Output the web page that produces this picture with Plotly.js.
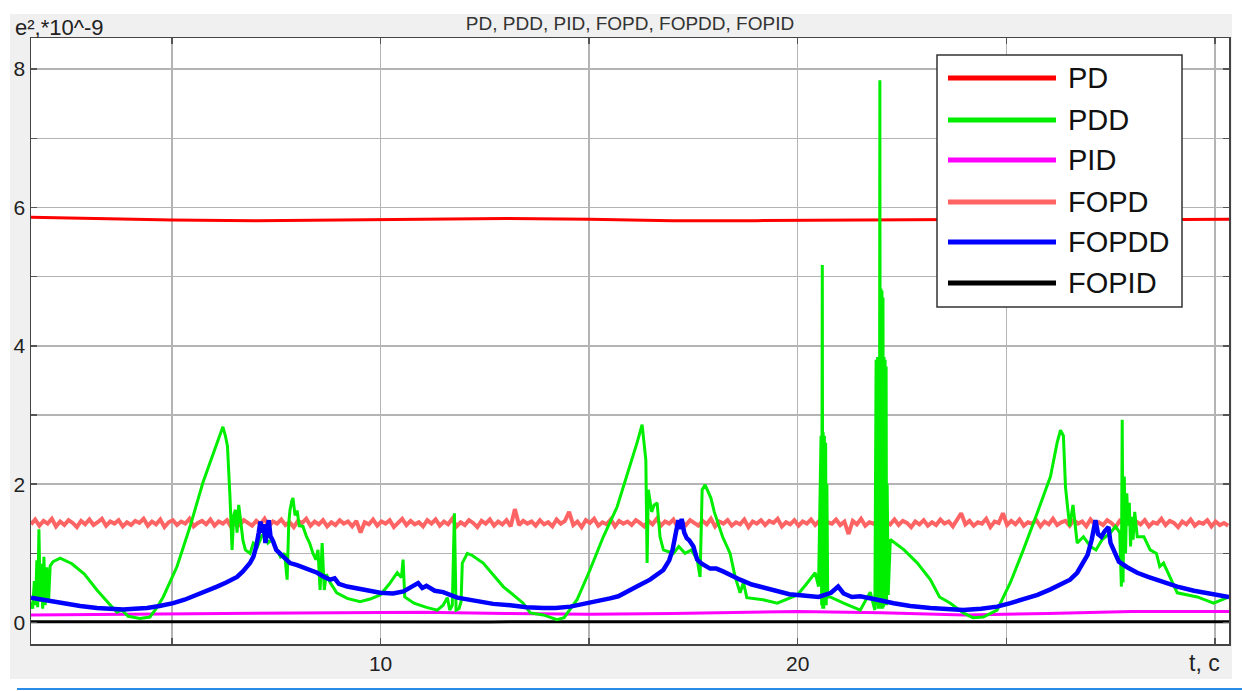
<!DOCTYPE html>
<html>
<head>
<meta charset="utf-8">
<script src="https://cdn.plot.ly/plotly-3.0.1.min.js"></script>
<style>
  html, body { margin: 0; padding: 0; background: #ffffff; }
  #panel { position: absolute; left: 10px; top: 14px; width: 1222px; height: 665px; background: #f0f0f0; }
  #rule { position: absolute; left: 17px; top: 688px; width: 1225px; height: 2px; background: #2a8be8; }
  #chart { position: absolute; left: 0; top: 0; width: 1242px; height: 691px; }
</style>
</head>
<body>
<div id="panel"></div>
<div id="rule"></div>
<div id="chart"></div>
<script>
// ---------------- data ----------------
const chartTitle = "PD, PDD, PID, FOPD, FOPDD, FOPID";
const yLabel = "e²,*10^-9";
const xLabel = "t, c";
const seriesNames = ["PD", "PDD", "PID", "FOPD", "FOPDD", "FOPID"];
const seriesColors = ["#ff0000", "#00ee00", "#ff00ff", "#ff6464", "#0000ff", "#000000"];

const xTickVals = [5, 10, 15, 20, 25, 30];
const xTickText = ["", "10", "", "20", "", ""];
const yTickVals = [0, 1, 2, 3, 4, 5, 6, 7, 8];
const yTickText = ["0", "", "2", "", "4", "", "6", "", "8"];

// PD (red)
const tPD = [1.62, 3, 5, 7, 9, 11, 13, 15, 17, 19, 21, 23, 25, 27, 29, 30.34];
const yPD = [5.86, 5.84, 5.82, 5.81, 5.82, 5.83, 5.84, 5.83, 5.81, 5.81, 5.82, 5.83, 5.83, 5.82, 5.82, 5.83];

// PDD (green)
const tPDD = [1.62,1.66,1.70,1.73,1.76,1.78,1.81,1.84,1.87,1.90,1.93,1.96,2.00,2.04,2.08,2.15,2.32,2.6,2.9,3.2,3.45,3.68,3.8,3.95,4.23,4.47,4.62,4.79,5.12,5.43,5.74,6.08,6.15,6.22,6.28,6.33,6.39,6.44,6.48,6.52,6.56,6.60,6.65,6.70,6.76,6.87,6.95,7.05,7.15,7.22,7.30,7.40,7.52,7.60,7.70,7.76,7.80,7.83,7.87,7.90,7.95,8.00,8.05,8.14,8.22,8.30,8.38,8.45,8.50,8.55,8.60,8.65,8.70,8.79,8.95,9.2,9.51,9.75,9.99,10.2,10.4,10.5,10.54,10.58,10.8,11.1,11.36,11.5,11.6,11.66,11.72,11.77,11.81,11.88,11.93,11.96,12.08,12.2,12.46,12.94,13.42,13.59,13.9,14.23,14.4,14.71,15.02,15.34,15.67,15.98,16.15,16.27,16.33,16.36,16.39,16.42,16.50,16.56,16.63,16.70,16.78,16.9,17.02,17.15,17.3,17.45,17.59,17.66,17.71,17.78,17.85,17.92,18.0,18.07,18.2,18.38,18.5,18.62,18.7,18.78,19.17,19.51,19.99,20.2,20.42,20.50,20.56,20.575,20.59,20.60,20.61,20.625,20.64,20.655,20.67,20.685,20.70,20.72,20.78,21.1,21.5,21.74,21.85,21.88,21.90,21.915,21.93,21.945,21.96,21.97,21.98,21.995,22.005,22.02,22.03,22.045,22.055,22.07,22.08,22.095,22.105,22.12,22.13,22.145,22.17,22.22,22.55,22.87,23.18,23.4,23.66,23.97,24.2,24.45,24.78,25.1,25.41,25.74,26.06,26.22,26.30,26.37,26.42,26.47,26.52,26.6,26.7,26.85,27.02,27.15,27.3,27.5,27.62,27.72,27.76,27.78,27.80,27.83,27.86,27.89,27.92,27.95,27.98,28.01,28.04,28.08,28.14,28.3,28.45,28.6,28.68,28.77,29.1,29.58,29.97,30.34];
const yPDD = [0.30,0.20,0.60,0.25,0.90,0.22,1.35,0.30,0.85,0.20,0.95,0.25,0.80,0.30,0.82,0.88,0.93,0.85,0.70,0.47,0.30,0.15,0.18,0.09,0.06,0.08,0.20,0.37,0.81,1.38,2.02,2.60,2.72,2.83,2.70,2.55,1.82,1.05,1.55,1.63,1.30,1.70,1.45,1.19,1.05,1.00,1.15,1.10,1.25,1.30,1.15,1.20,1.05,0.95,1.00,0.62,1.45,1.63,1.75,1.80,1.55,1.62,1.40,1.39,1.25,1.15,1.00,0.91,1.05,0.47,1.15,0.47,0.70,0.58,0.43,0.35,0.30,0.34,0.40,0.55,0.72,0.65,0.91,0.37,0.28,0.22,0.18,0.25,0.36,0.18,0.25,1.58,0.18,0.20,0.30,0.86,1.00,0.97,0.86,0.52,0.28,0.14,0.11,0.04,0.07,0.33,0.76,1.24,1.67,2.25,2.60,2.86,2.55,2.35,0.86,1.92,1.60,1.70,1.73,1.24,1.05,1.02,1.00,1.10,1.00,1.05,0.91,0.66,1.92,1.99,1.90,1.80,1.60,1.48,1.24,1.00,0.66,0.43,0.58,0.36,0.33,0.28,0.40,0.55,0.72,0.52,2.70,0.25,5.17,0.20,2.75,0.20,2.70,0.30,2.60,0.25,2.00,0.37,0.37,0.28,0.18,0.44,0.18,3.80,0.25,3.84,0.20,3.80,0.22,7.84,0.20,4.83,0.25,4.80,0.20,4.70,0.22,3.84,0.25,3.80,0.30,3.70,0.25,2.00,0.40,1.20,1.05,0.86,0.62,0.37,0.28,0.14,0.07,0.08,0.18,0.58,1.05,1.58,2.11,2.60,2.78,2.70,1.96,1.67,1.39,1.70,1.15,1.24,1.10,1.05,1.20,1.30,1.39,1.30,0.52,2.93,0.58,2.11,1.00,1.87,1.40,1.73,1.10,1.53,1.20,1.60,1.24,1.24,1.05,1.00,0.81,0.86,0.43,0.37,0.28,0.37,0.62];

// PID (magenta)
const tPID = [1.62, 4, 6, 8.8, 11, 13, 15, 17, 20, 22, 24, 26, 28, 30.34];
const yPID = [0.11, 0.12, 0.13, 0.15, 0.15, 0.13, 0.12, 0.13, 0.16, 0.14, 0.11, 0.13, 0.16, 0.16];

// FOPD (salmon) — sampled every 0.1 s starting at t = 1.62
const fopdStart = 1.62, fopdStep = 0.1;
const yFOPD = [
1.42,1.49,1.40,1.47,1.43,1.50,1.39,1.46,1.41,1.48,1.44,1.38,1.47,1.42,1.49,1.41,1.45,1.50,1.40,1.46,1.43,1.48,1.39,1.45,
1.41,1.47,1.44,1.50,1.40,1.46,1.42,1.49,1.38,1.45,1.48,1.41,1.46,1.43,1.50,1.39,1.44,1.47,1.42,1.49,1.40,1.46,1.43,1.48,
1.38,1.45,1.41,1.48,1.44,1.40,1.47,1.42,1.50,1.39,1.46,1.43,1.49,1.41,1.45,1.38,1.47,1.44,1.50,1.40,1.46,1.42,1.48,1.39,
1.45,1.41,1.48,1.43,1.46,1.39,1.47,1.30,1.45,1.42,1.49,1.40,1.46,1.43,1.48,1.38,1.44,1.50,1.41,1.47,1.42,1.45,1.39,1.48,
1.43,1.49,1.40,1.46,1.42,1.50,1.39,1.45,1.41,1.48,1.44,1.38,1.47,1.43,1.49,1.40,1.46,1.42,1.48,1.39,1.64,1.41,1.47,1.43,
1.46,1.40,1.48,1.42,1.45,1.39,1.49,1.43,1.47,1.60,1.41,1.46,1.38,1.48,1.44,1.50,1.40,1.45,1.42,1.49,1.39,1.47,1.43,1.46,
1.41,1.48,1.44,1.39,1.47,1.42,1.50,1.40,1.46,1.43,1.49,1.38,1.45,1.41,1.48,1.44,1.40,1.47,1.42,1.50,1.39,1.46,1.43,1.48,
1.40,1.45,1.42,1.49,1.38,1.46,1.43,1.48,1.41,1.47,1.44,1.50,1.39,1.45,1.42,1.48,1.40,1.46,1.43,1.49,1.41,1.47,1.38,1.45,
1.43,1.49,1.41,1.46,1.28,1.47,1.42,1.50,1.40,1.45,1.43,1.48,1.39,1.46,1.42,1.49,1.41,1.47,1.44,1.38,1.46,1.42,1.48,1.40,
1.45,1.41,1.49,1.43,1.46,1.39,1.48,1.58,1.42,1.47,1.40,1.45,1.43,1.50,1.38,1.46,1.44,1.58,1.41,1.47,1.42,1.49,1.40,1.45,
1.43,1.48,1.39,1.46,1.42,1.50,1.41,1.45,1.47,1.40,1.48,1.43,1.46,1.39,1.49,1.42,1.45,1.41,1.48,1.44,1.38,1.47,1.43,1.49,
1.40,1.46,1.42,1.48,1.39,1.45,1.43,1.50,1.41,1.47,1.44,1.38,1.46,1.42,1.49,1.40,1.45,1.43,1.48,1.39,1.46,1.41,1.44,1.40];

// FOPDD (blue)
const tFOPDD = [1.62,1.8,2.1,2.4,2.8,3.2,3.5,3.83,4.1,4.4,4.7,5.03,5.3,5.6,5.85,6.08,6.3,6.56,6.7,6.87,6.95,7.02,7.08,7.12,7.16,7.20,7.24,7.28,7.32,7.36,7.42,7.5,7.59,7.7,7.83,8.0,8.15,8.3,8.48,8.65,8.79,8.9,9.0,9.2,9.58,9.99,10.3,10.55,10.75,10.9,11.0,11.1,11.3,11.5,11.84,12.3,12.7,13.11,13.5,13.9,14.2,14.55,14.9,15.2,15.5,15.7,15.98,16.2,16.46,16.65,16.78,16.92,17.0,17.08,17.14,17.18,17.22,17.28,17.34,17.40,17.5,17.59,17.7,17.9,18.05,18.21,18.4,18.62,18.9,19.2,19.51,19.8,20.13,20.5,20.8,20.97,21.1,21.3,21.5,21.7,21.91,22.3,22.7,23.18,23.6,23.97,24.4,24.78,25.1,25.41,25.75,26.06,26.3,26.53,26.7,26.85,26.95,27.05,27.14,27.2,27.28,27.36,27.45,27.5,27.58,27.7,27.9,28.14,28.4,28.7,29.1,29.5,29.9,30.34];
const yFOPDD = [0.36,0.34,0.31,0.28,0.24,0.21,0.20,0.19,0.20,0.21,0.24,0.28,0.33,0.40,0.45,0.52,0.58,0.66,0.74,0.86,0.95,1.10,1.30,1.46,1.30,1.42,1.15,1.40,1.48,1.25,1.18,1.05,1.00,0.92,0.86,0.83,0.80,0.76,0.72,0.66,0.62,0.64,0.56,0.52,0.47,0.43,0.42,0.45,0.52,0.57,0.50,0.53,0.46,0.44,0.36,0.31,0.27,0.25,0.22,0.21,0.21,0.23,0.27,0.30,0.35,0.38,0.46,0.54,0.62,0.70,0.76,0.90,1.05,1.30,1.48,1.35,1.50,1.30,1.22,1.19,1.10,0.91,0.85,0.78,0.78,0.74,0.68,0.62,0.55,0.50,0.45,0.41,0.39,0.37,0.43,0.52,0.42,0.37,0.38,0.36,0.33,0.28,0.24,0.21,0.19,0.18,0.20,0.23,0.28,0.33,0.40,0.48,0.55,0.62,0.72,0.86,0.98,1.20,1.48,1.28,1.24,1.32,1.38,1.15,1.05,0.88,0.80,0.72,0.66,0.60,0.52,0.46,0.41,0.37];

// FOPID (black) — sampled every 1 s starting at t = 1.62
const fopidStart = 1.62, fopidStep = 1.0;
const yFOPID = [0.01,0.012,0.008,0.011,0.009,0.013,0.010,0.008,0.012,0.010,0.011,0.009,0.012,0.010,0.008,0.011,0.013,0.009,0.010,0.012,0.008,0.011,0.010,0.013,0.009,0.010,0.012,0.008,0.011,0.010];

// ---------------- plot ----------------
const fontFam = "Liberation Sans, Arial, Helvetica, sans-serif";

const traces = [
  {name: seriesNames[0], x: tPD, y: yPD, mode: "lines", line: {color: seriesColors[0], width: 3}},
  {name: seriesNames[3], x0: fopdStart, dx: fopdStep, y: yFOPD, mode: "lines", line: {color: seriesColors[3], width: 4}},
  {name: seriesNames[2], x: tPID, y: yPID, mode: "lines", line: {color: seriesColors[2], width: 3}},
  {name: seriesNames[5], x0: fopidStart, dx: fopidStep, y: yFOPID, mode: "lines", line: {color: seriesColors[5], width: 3}},
  {name: seriesNames[1], x: tPDD, y: yPDD, mode: "lines", line: {color: seriesColors[1], width: 3}},
  {name: seriesNames[4], x: tFOPDD, y: yFOPDD, mode: "lines", line: {color: seriesColors[4], width: 4.5}}
];

const axisCommon = {
  showgrid: true, gridcolor: "#b4b4b4", gridwidth: 1.5,
  ticks: "inside", ticklen: 6, tickwidth: 1.5, tickcolor: "#555",
  showline: true, linecolor: "#444", linewidth: 1.5, mirror: "ticks",
  zeroline: false, tickmode: "array",
  tickfont: {family: fontFam, size: 21, color: "#222"}
};

// plot-area pixel -> paper coordinates (plot area: x 31..1229, y 38..644)
const px = v => (v - 31) / 1198;
const py = v => (644 - v) / 606;

// custom legend box (long line samples, as in the reference)
const legendRows = [78, 120, 160, 202, 242, 283];
const shapes = [
  {type: "rect", xref: "paper", yref: "paper", x0: px(937), x1: px(1182), y0: py(55), y1: py(307),
   fillcolor: "#ffffff", line: {color: "#333", width: 1.5}, layer: "above"}
];
const annotations = [
  {text: yLabel, xref: "paper", yref: "paper", x: px(13), y: py(28),
   xanchor: "left", yanchor: "middle", showarrow: false, font: {family: fontFam, size: 22, color: "#222"}},
  {text: xLabel, xref: "paper", yref: "paper", x: px(1222), y: py(663),
   xanchor: "right", yanchor: "middle", showarrow: false, font: {family: fontFam, size: 23, color: "#222"}}
];
seriesNames.forEach((name, i) => {
  shapes.push({type: "line", xref: "paper", yref: "paper", x0: px(948), x1: px(1056), y0: py(legendRows[i]), y1: py(legendRows[i]),
               line: {color: seriesColors[i], width: 5}, layer: "above"});
  annotations.push({text: name, xref: "paper", yref: "paper", x: px(1066), y: py(legendRows[i]),
                    xanchor: "left", yanchor: "middle", showarrow: false,
                    font: {family: fontFam, size: 29, color: "#111"}});
});

const layout = {
  width: 1242, height: 691,
  margin: {l: 31, r: 13, t: 38, b: 47, pad: 0},
  paper_bgcolor: "rgba(0,0,0,0)",
  plot_bgcolor: "#ffffff",
  title: {text: chartTitle, x: 630 / 1242, xanchor: "center", y: 1 - 23 / 691, yanchor: "middle", yref: "container",
          font: {family: fontFam, size: 19, color: "#333"}},
  xaxis: Object.assign({}, axisCommon, {range: [1.62, 30.34], tickvals: xTickVals, ticktext: xTickText}),
  yaxis: Object.assign({}, axisCommon, {range: [-0.31, 8.45], tickvals: yTickVals, ticktext: yTickText}),
  showlegend: false,
  shapes: shapes,
  annotations: annotations
};

Plotly.newPlot("chart", traces, layout, {displayModeBar: false, staticPlot: true});
</script>
</body>
</html>
